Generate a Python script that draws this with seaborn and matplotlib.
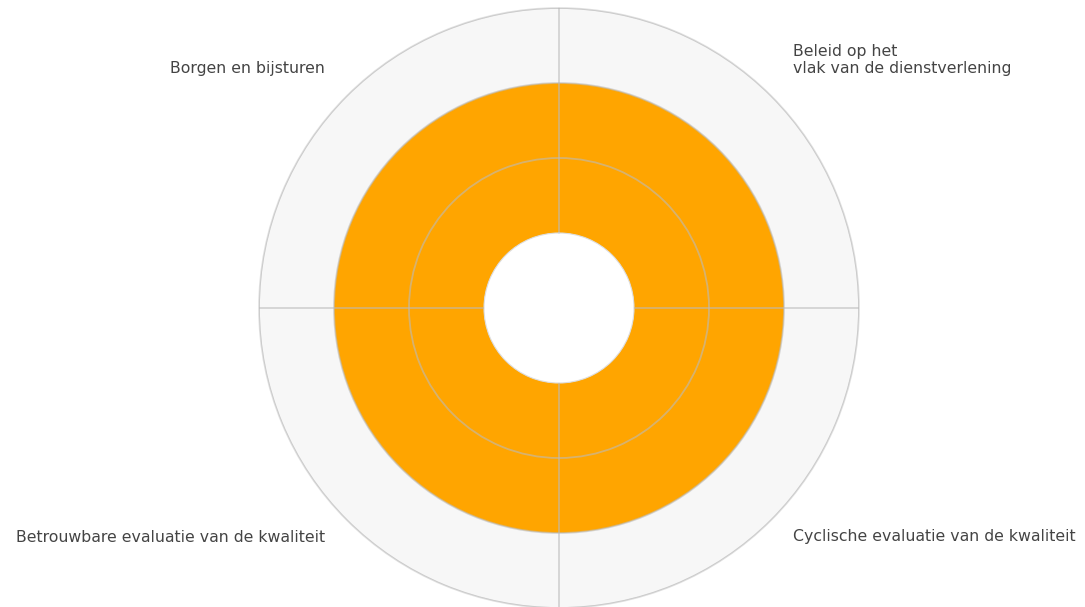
import numpy as np
import pandas as pd
import seaborn as sns
import matplotlib
matplotlib.use("Agg")
import matplotlib.pyplot as plt

sns.set_style("white")
plt.rcParams['font.family'] = ['DejaVu Sans']

# the four domains, one quadrant each (clockwise from top)
domains = ["Beleid op het\nvlak van de dienstverlening",
           "Cyclische evaluatie van de kwaliteit",
           "Betrouwbare evaluatie van de kwaliteit",
           "Borgen en bijsturen"]
angles_deg = [45, 135, 225, 315]
scores = [2, 2, 2, 2]
max_score = 3

dat = pd.DataFrame({"domain": domains,
                    "theta": np.deg2rad(angles_deg),
                    "score": scores})

fig = plt.figure(figsize=(10.85, 6.07), dpi=100)
ax = fig.add_axes([259/1085, -1/607, 600/1085, 600/607], projection="polar")
ax.set_theta_zero_location("N")
ax.set_theta_direction(-1)
ax.set_facecolor("#f7f7f7")

sns.barplot(data=dat, x="theta", y="score", native_scale=True, width=1,
            color="#ffa500", saturation=1, errorbar=None, ax=ax,
            linewidth=0, edgecolor="none", zorder=1)

ax.set_rorigin(-1)
ax.set_ylim(0, max_score)
ax.set_yticks([1, 2, 3])
ax.set_yticklabels([])
ax.set_xticks(np.deg2rad([0, 90, 180, 270]))
ax.set_xticklabels([])
ax.set_xlabel("")
ax.set_ylabel("")
ax.grid(True, color="#bbbbbb", linewidth=1.3, alpha=0.6, zorder=3)
ax.set_axisbelow(False)
ax.spines["polar"].set_color("#e0e0e0")
ax.spines["polar"].set_linewidth(1.2)
ax.spines["inner"].set_color("#dddddd")

# labels in the corners
fs = 11.3
fig.text(793/1085, 1 - 60/607, domains[0], ha="left", va="center",
         fontsize=fs, color="#444444", linespacing=1.15)
fig.text(793/1085, 1 - 537/607, domains[1], ha="left", va="center",
         fontsize=fs, color="#444444")
fig.text(325/1085, 1 - 537/607, domains[2], ha="right", va="center",
         fontsize=fs, color="#444444")
fig.text(325/1085, 1 - 68/607, domains[3], ha="right", va="center",
         fontsize=fs, color="#444444")

plt.savefig("out.png", dpi=100)
